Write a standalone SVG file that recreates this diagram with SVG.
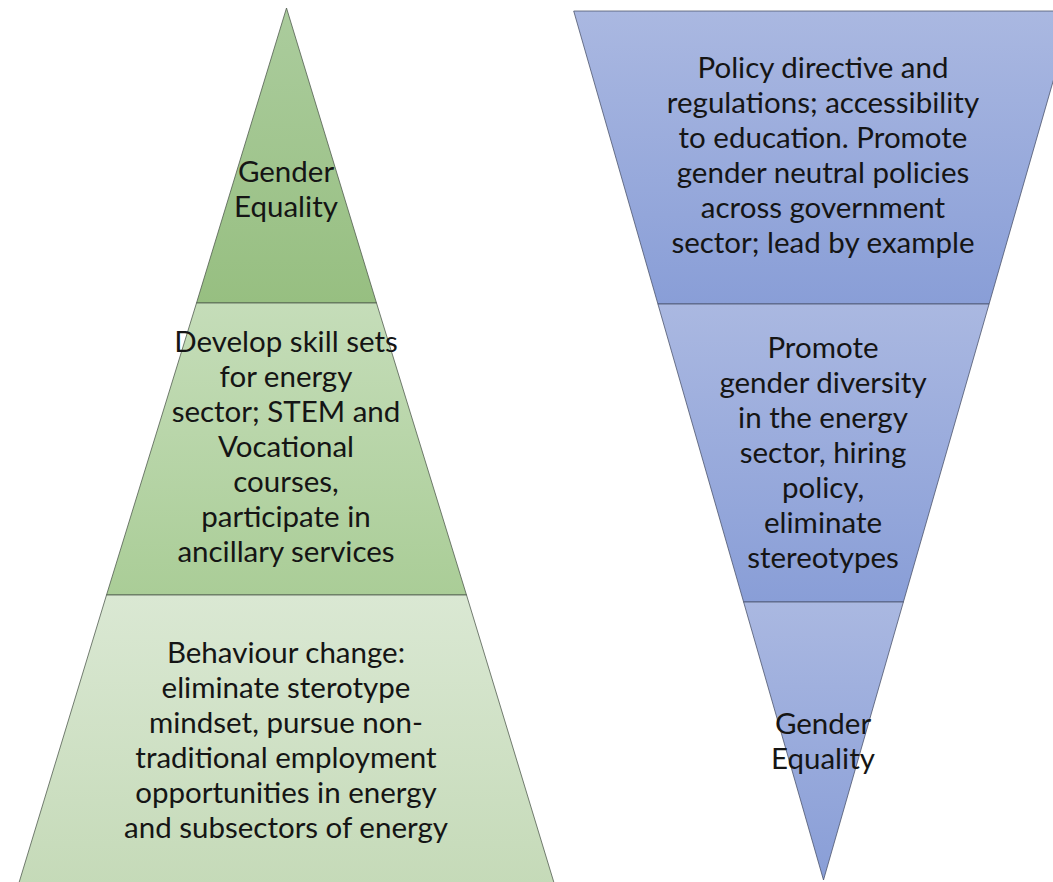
<svg xmlns="http://www.w3.org/2000/svg" width="1053" height="882" viewBox="0 0 1053 882">
<defs>
<linearGradient id="g1" x1="0" y1="0" x2="0" y2="1"><stop offset="0" stop-color="#abcc9d"/><stop offset="1" stop-color="#97bf81"/></linearGradient>
<linearGradient id="g2" x1="0" y1="0" x2="0" y2="1"><stop offset="0" stop-color="#c5ddb9"/><stop offset="1" stop-color="#aacd97"/></linearGradient>
<linearGradient id="g3" x1="0" y1="0" x2="0" y2="1"><stop offset="0" stop-color="#dae8d3"/><stop offset="1" stop-color="#c5dab8"/></linearGradient>
<linearGradient id="b1" x1="0" y1="0" x2="0" y2="1"><stop offset="0" stop-color="#aab8e1"/><stop offset="1" stop-color="#899ed7"/></linearGradient>
</defs>
<style>
.tier{stroke:#4a5448;stroke-width:1;stroke-opacity:0.75;stroke-linejoin:miter}
.blue{stroke:#454d66}
text{font-family:Lato,"Liberation Sans",sans-serif;font-size:29.5px;fill:#151515;text-anchor:middle}
</style>
<rect width="1053" height="882" fill="#ffffff"/>
<g id="green-top">
<polygon class="tier" fill="url(#g1)" points="286.5,8 376.5,303 196.5,303"/>
<text x="286" y="182">Gender</text>
<text x="286" y="217">Equality</text>
</g>
<g id="green-middle">
<polygon class="tier" fill="url(#g2)" points="196.5,303 376.5,303 466.5,595 106.5,595"/>
<text x="286" y="352">Develop skill sets</text>
<text x="286" y="387">for energy</text>
<text x="286" y="422">sector; STEM and</text>
<text x="286" y="457">Vocational</text>
<text x="286" y="492">courses,</text>
<text x="286" y="527">participate in</text>
<text x="286" y="562">ancillary services</text>
</g>
<g id="green-bottom">
<polygon class="tier" fill="url(#g3)" points="106.5,595 466.5,595 555,886 18,886"/>
<text x="286" y="663">Behaviour change:</text>
<text x="286" y="698">eliminate sterotype</text>
<text x="286" y="733">mindset, pursue non-</text>
<text x="286" y="768">traditional employment</text>
<text x="286" y="803">opportunities in energy</text>
<text x="286" y="838">and subsectors of energy</text>
</g>
<g id="blue-top">
<polygon class="tier blue" fill="url(#b1)" points="573.7,11 1073.3,11 989.1,304 657.9,304"/>
<text x="823" y="78">Policy directive and</text>
<text x="823" y="113">regulations; accessibility</text>
<text x="823" y="148">to education. Promote</text>
<text x="823" y="183">gender neutral policies</text>
<text x="823" y="218">across government</text>
<text x="823" y="253">sector; lead by example</text>
</g>
<g id="blue-middle">
<polygon class="tier blue" fill="url(#b1)" points="657.9,304 989.1,304 903.4,602 743.6,602"/>
<text x="823" y="358">Promote</text>
<text x="823" y="393">gender diversity</text>
<text x="823" y="428">in the energy</text>
<text x="823" y="463">sector, hiring</text>
<text x="823" y="498">policy,</text>
<text x="823" y="533">eliminate</text>
<text x="823" y="568">stereotypes</text>
</g>
<g id="blue-bottom">
<polygon class="tier blue" fill="url(#b1)" points="743.6,602 903.4,602 823.5,880"/>
<text x="823" y="734">Gender</text>
<text x="823" y="769">Equality</text>
</g>
</svg>
